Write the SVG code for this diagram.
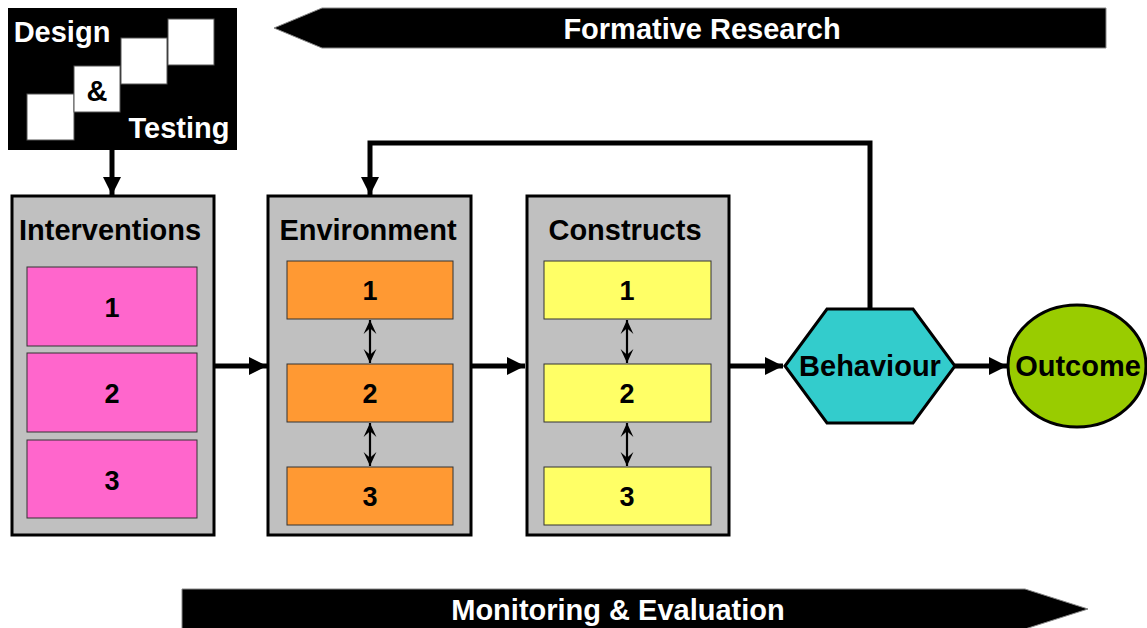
<svg xmlns="http://www.w3.org/2000/svg" width="1147" height="628" viewBox="0 0 1147 628">
<defs>
<style>
text{font-family:"Liberation Sans",Arial,sans-serif;font-weight:bold;font-size:29px;text-anchor:middle}
.w{fill:#fff}
.k{fill:#000}
.num{font-size:27px}
.panel{fill:#c0c0c0;stroke:#000;stroke-width:3}
.pink{fill:#ff66cc;stroke:#333;stroke-width:1}
.orange{fill:#ff9933;stroke:#333;stroke-width:1}
.yellow{fill:#ffff66;stroke:#333;stroke-width:1}
.sq{fill:#fff;stroke:#555;stroke-width:1}
.thick{stroke:#000;stroke-width:5;fill:none}
.thin{stroke:#000;stroke-width:2.2;fill:none}
</style>
<marker id="ah" viewBox="0 0 10 10" refX="10" refY="5" markerWidth="3.6" markerHeight="3.6" markerUnits="strokeWidth" orient="auto">
<path d="M0,0 L10,5 L0,10 z" fill="#000"/>
</marker>
<marker id="sh" viewBox="0 0 12 12" refX="12" refY="6" markerWidth="14" markerHeight="14" markerUnits="userSpaceOnUse" orient="auto-start-reverse">
<path d="M0,0.5 L12,6 L0,11.5 L5,6 z" fill="#000"/>
</marker>
</defs>

<g id="formative-research">
<polygon points="274,28 322,8 1106,8 1106,48 322,48" fill="#000" stroke="#888" stroke-width="1"/>
<text x="702" y="39" class="w">Formative Research</text>
</g>

<g id="monitoring-evaluation">
<polygon points="182,589 1025,589 1088,609 1025,629 182,629" fill="#000" stroke="#888" stroke-width="1"/>
<text x="618" y="620" class="w">Monitoring &amp; Evaluation</text>
</g>

<g id="design-testing">
<rect x="8" y="8" width="229" height="142" fill="#000"/>
<rect class="sq" x="27" y="94" width="47" height="46"/>
<rect class="sq" x="74" y="66" width="46" height="46"/>
<rect class="sq" x="121" y="38" width="46" height="46"/>
<rect class="sq" x="168" y="19" width="46" height="46"/>
<text x="62" y="42" class="w">Design</text>
<text x="97" y="101" class="k">&amp;</text>
<text x="179" y="138" class="w">Testing</text>
</g>

<g id="interventions">
<rect class="panel" x="12" y="196" width="202" height="339"/>
<text x="110" y="240" class="k">Interventions</text>
<rect class="pink" x="27" y="267" width="170" height="79"/>
<text x="112" y="317" class="k num">1</text>
<rect class="pink" x="27" y="353" width="170" height="79"/>
<text x="112" y="403" class="k num">2</text>
<rect class="pink" x="27" y="440" width="170" height="78"/>
<text x="112" y="490" class="k num">3</text>
</g>

<g id="environment">
<rect class="panel" x="268" y="196" width="203" height="339"/>
<text x="368" y="240" class="k">Environment</text>
<rect class="orange" x="287" y="261" width="166" height="58"/>
<text x="370" y="300" class="k num">1</text>
<rect class="orange" x="287" y="364" width="166" height="58"/>
<text x="370" y="403" class="k num">2</text>
<rect class="orange" x="287" y="467" width="166" height="58"/>
<text x="370" y="506" class="k num">3</text>
</g>

<g id="constructs">
<rect class="panel" x="527" y="196" width="202" height="339"/>
<text x="625" y="240" class="k">Constructs</text>
<rect class="yellow" x="544" y="261" width="167" height="58"/>
<text x="627" y="300" class="k num">1</text>
<rect class="yellow" x="544" y="364" width="167" height="58"/>
<text x="627" y="403" class="k num">2</text>
<rect class="yellow" x="544" y="467" width="167" height="58"/>
<text x="627" y="506" class="k num">3</text>
</g>

<g id="behaviour">
<polygon points="785,366 827,309 913,309 955,366 913,423 827,423" fill="#33cccc" stroke="#000" stroke-width="3"/>
<text x="870" y="376" class="k">Behaviour</text>
</g>

<g id="outcome">
<ellipse cx="1077" cy="366" rx="69" ry="61" fill="#99cc00" stroke="#000" stroke-width="3"/>
<text x="1078" y="376" class="k">Outcome</text>
</g>

<g id="connectors">
<line class="thick" x1="112" y1="150" x2="112" y2="195" marker-end="url(#ah)"/>
<line class="thick" x1="214" y1="366" x2="267" y2="366" marker-end="url(#ah)"/>
<line class="thick" x1="471" y1="366" x2="525" y2="366" marker-end="url(#ah)"/>
<line class="thick" x1="729" y1="366" x2="783" y2="366" marker-end="url(#ah)"/>
<line class="thick" x1="955" y1="366" x2="1007" y2="366" marker-end="url(#ah)"/>
<polyline class="thick" points="870,309 870,143 370,143 370,195" marker-end="url(#ah)"/>
<line class="thin" x1="370" y1="320" x2="370" y2="363" marker-start="url(#sh)" marker-end="url(#sh)"/>
<line class="thin" x1="370" y1="423" x2="370" y2="466" marker-start="url(#sh)" marker-end="url(#sh)"/>
<line class="thin" x1="627" y1="320" x2="627" y2="363" marker-start="url(#sh)" marker-end="url(#sh)"/>
<line class="thin" x1="627" y1="423" x2="627" y2="466" marker-start="url(#sh)" marker-end="url(#sh)"/>
</g>
</svg>
